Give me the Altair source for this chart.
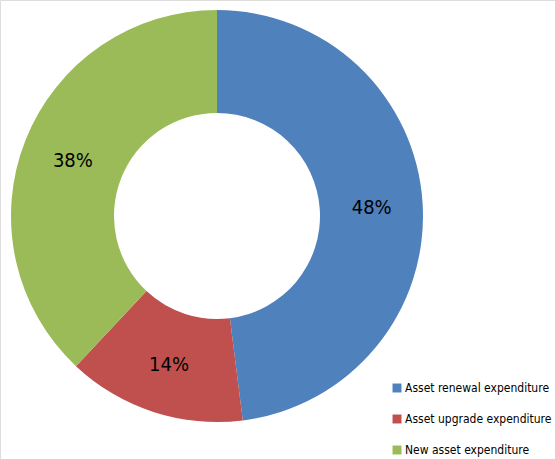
import altair as alt
import pandas as pd

categories = ["Asset renewal expenditure", "Asset upgrade expenditure", "New asset expenditure"]
values = [48, 14, 38]
labels = ["48%", "14%", "38%"]
colors = ["#4F81BD", "#C0504D", "#9BBB59"]

df = pd.DataFrame({"cat": categories, "val": values, "lab": labels, "ord": [0, 1, 2]})

FONT = "DejaVu Sans Condensed, Liberation Sans, sans-serif"

base = alt.Chart(df).encode(
    theta=alt.Theta("val:Q", stack=True),
    order=alt.Order("ord:Q"),
    x=alt.value(217),
    y=alt.value(216),
)

arc = base.mark_arc(outerRadius=206, innerRadius=103, stroke="white", strokeWidth=0).encode(
    color=alt.Color(
        "cat:N",
        scale=alt.Scale(domain=categories, range=colors),
        sort=categories,
        legend=alt.Legend(
            title=None,
            orient="none",
            legendX=391,
            legendY=382,
            symbolType="square",
            symbolSize=80,
            symbolStrokeWidth=0,
            labelFont=FONT,
            labelFontSize=12,
            labelColor="#000000",
            labelLimit=300,
            rowPadding=19,
            labelOffset=2,
        ),
    )
)

text = base.mark_text(radius=155, font=FONT, fontSize=20, color="#000000", dy=2).encode(
    text="lab:N"
)

chart = (
    alt.layer(arc, text)
    .properties(width=555, height=459, padding=0, autosize=alt.AutoSizeParams(type="none"))
    .configure_view(stroke=None)
    .configure(background="white")
)

chart.save("out.html", embed_options={"renderer": "svg", "actions": False})
